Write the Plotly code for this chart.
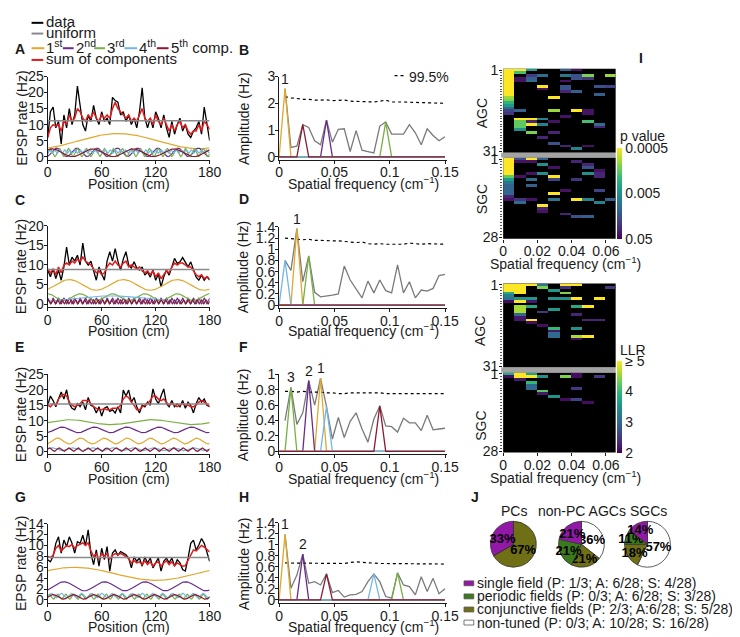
import math
import plotly.graph_objects as go

W, H = 740, 637


def px(v):
    return v / W


def py(v):
    return 1 - v / H


FONT = "Liberation Sans, Arial, Helvetica, sans-serif"
INK = "#1a1a1a"

# ---------------------------------------------------------------- data
position = [3 * i for i in range(61)]            # cm (3-cm bins)
smooth_position = [0.5 * i for i in range(361)]  # cm, for the sinusoidal components
freq_step = 0.00535                              # cm^-1 per spectral bin
freq = [freq_step * k for k in range(29)]
spec_freq = freq[1:]

COMP_COLORS = ["#e0a82e", "#6a2a8e", "#78b043", "#72b6e6", "#8a1a32"]
C_DATA, C_UNI, C_SUM = "#000000", "#8a8a8a", "#e31a1c"

# ---- A / B
A_data = [6, 14, 15.5, 9, 11, 4, 13, 9, 15, 10, 13, 22, 16, 10, 8, 13, 11, 16, 12, 10,
          14, 11, 12, 10, 18.5, 17.5, 17, 13, 14, 11, 13, 10, 12, 9, 14, 21.5, 12, 9, 12, 9,
          14, 12, 9, 13, 9, 6, 11, 7, 10, 12, 8, 10, 7, 6, 8, 9, 11, 7, 15.5, 10, 5]
A_sum = [6, 9, 10, 9.5, 10, 8, 11, 10, 13, 11, 12, 15, 14, 12, 11, 13, 12, 14, 12, 11,
         13, 12, 13, 12, 15, 17, 15, 14, 13, 12, 13, 11, 12, 11, 13, 15, 12, 11, 12, 10,
         13, 11, 10, 12, 10, 8, 10, 8, 10, 11, 9, 10, 8, 7, 8, 8, 10, 8, 11, 10, 8.5]
A_uniform = 11.2
A_comp_cycles = [1, 8, 18, 32, 4]
A_comp_amp = [2.35, 1.3, 1.25, 0.5, 1.2]
A_comp_offset = [4.85, 1.35, 1.3, 1.6, 1.2]
A_comp_peak = [78, 10, 3, 2, 5]
B_spec = [2.55, 0.35, 0.4, 1.2, 1.1, 0.6, 0.45, 1.37, 0.55, 1.03, 1.05, 0.2, 0.98, 0.25,
          0.2, 0.15, 1.15, 1.3, 0.85, 0.85, 0.85, 1.2, 0.9, 0.45, 1.05, 0.8, 0.6, 0.75]
B_threshold = [2.25, 2.2, 2.18, 2.15, 2.15, 2.12, 2.12, 2.13, 2.1, 2.1, 2.12, 2.08, 2.07, 2.08,
               2.05, 2.05, 2.08, 2.12, 2.05, 2.06, 2.05, 2.04, 2.03, 2.03, 2.02, 2.02, 2.0, 2.0]
B_peak_labels = [(0, "1")]

# ---- C / D
C_data = [8.7, 7, 9, 6.5, 8.7, 6.1, 9.5, 14.6, 10, 12, 11, 12.5, 10, 15.6, 11, 10, 11, 8.7, 6.1, 9.5,
          7.8, 6.1, 11, 13.4, 11, 14.2, 11, 8.7, 11.5, 13.4, 10, 9.2, 10.8, 9.2, 8.7, 9.5, 7.4, 8.2, 6.9, 8.7,
          6.1, 7.7, 4.4, 7, 8.7, 7.4, 9.5, 11.7, 10.4, 10.8, 11.9, 10.8, 9.5, 10.8, 9, 6.9, 6.1, 7.4, 6.1, 7, 6.1]
C_sum = [9, 8, 9, 7.5, 9.5, 8, 10, 10.5, 10, 11, 10.5, 11.5, 11, 12, 11, 10.5, 10, 9, 8, 8.5,
         7.5, 8, 9.5, 10.5, 10, 11, 10, 9.5, 10.5, 11, 9.5, 10, 9.5, 9, 9.5, 8.5, 8, 8.5, 7.5, 8.5,
         7, 8, 6.5, 7.5, 8.5, 8, 9.5, 10.5, 10, 10.5, 10.5, 10, 9.5, 9.5, 8.5, 7.5, 7, 7.5, 6.5, 7, 6.5]
C_uniform = 8.85
C_comp_cycles = [3, 30, 5, 1, 36]
C_comp_amp = [1.37, 0.7, 0.88, 0.8, 0.5]
C_comp_offset = [4.9, 0.8, 1.75, 1.3, 0.55]
C_comp_peak = [24, 0, 0, 70, 1]
D_spec = [0.8, 0.62, 1.37, 0.42, 0.88, 0.23, 0.15, 0.16, 0.18, 0.2, 0.7, 0.45, 0.3, 0.13,
          0.43, 0.22, 0.45, 0.26, 0.22, 0.72, 0.22, 0.42, 0.13, 0.27, 0.25, 0.3, 0.53, 0.55]
D_threshold = [1.2, 1.19, 1.18, 1.17, 1.18, 1.16, 1.16, 1.15, 1.15, 1.15, 1.14, 1.12, 1.12, 1.13,
               1.1, 1.09, 1.1, 1.09, 1.09, 1.08, 1.09, 1.11, 1.1, 1.09, 1.1, 1.1, 1.09, 1.09]
D_peak_labels = [(0, "1")]

# ---- E / F
E_data = [15, 18, 16.5, 14.5, 17, 19.3, 17, 20, 15.5, 14, 13.5, 15.5, 14.5, 16, 13.5, 17.5, 15, 14.5, 12.5, 14.5,
          11.5, 14, 14.5, 13, 13.5, 12.5, 14.5, 12.5, 19.9, 18, 19.9, 16, 17.5, 14.5, 12.5, 15, 14.5, 16, 15, 20.3,
          17, 15.5, 18, 20.3, 15.5, 14.5, 16.5, 14.5, 15.5, 14.5, 16.5, 14, 16, 15, 12.5, 15.5, 17.5, 16, 17, 15, 14.5]
E_sum = [15, 14.5, 15.5, 15, 17, 18, 18.5, 18, 16, 15, 14.5, 15, 15.5, 16.5, 16.5, 16.5, 15.5, 14.5, 14, 13.5,
         13.5, 14, 13.5, 13.5, 14, 14, 14, 15, 17, 18, 17.5, 16, 15, 13.5, 13.5, 14.5, 15, 15.5, 16.5, 18,
         18, 17, 16.5, 17, 16, 15, 15.5, 15, 14.5, 15, 15.5, 15, 15, 14.5, 14.5, 15, 16, 16.5, 16, 15.5, 14.5]
E_uniform = 15.4
E_comp_cycles = [7, 5, 2, 8, 17]
E_comp_amp = [0.95, 0.9, 0.8, 0.45, 0.55]
E_comp_offset = [3.4, 7.0, 9.5, 0.75, 0.6]
E_comp_peak = [11, 16, 25, 5, 2]
F_spec = [0.4, 0.83, 0.35, 0.5, 0.92, 0.6, 0.95, 0.58, 0.16, 0.44, 0.18, 0.39, 0.5, 0.29,
          0.12, 0.42, 0.59, 0.33, 0.32, 0.25, 0.43, 0.37, 0.37, 0.27, 0.47, 0.28, 0.29, 0.3]
F_threshold = [0.78, 0.78, 0.77, 0.78, 0.77, 0.77, 0.77, 0.76, 0.76, 0.75, 0.75, 0.76, 0.76, 0.76,
               0.76, 0.76, 0.76, 0.75, 0.75, 0.75, 0.75, 0.75, 0.75, 0.75, 0.75, 0.75, 0.75, 0.75]
F_peak_labels = [(0, "1"), (1, "2"), (2, "3")]

# ---- G / H
G_data = [7.4, 7, 8, 10.4, 11.6, 8.6, 11, 9.8, 11.6, 10.4, 8.6, 10.7, 10.4, 11.9, 10, 12.9, 8.5, 6.5, 9.2, 6.2,
          9.5, 7.4, 9.8, 5.3, 8.6, 9.2, 8.2, 8.9, 8.6, 8.3, 7.7, 5.9, 7.9, 7.1, 7.7, 6.2, 7.9, 6.8, 7.7, 5.9,
          6.8, 7.7, 5.3, 7.1, 7.7, 6.8, 7.7, 6.2, 7.4, 6.8, 5.6, 5.3, 7.7, 10.4, 11, 9.2, 10.1, 11.3, 10.4, 8.6, 7.1]
G_sum = [8, 7.8, 8.2, 9.5, 10, 9, 9.5, 10, 9.8, 10.2, 9.5, 10, 10.2, 10.5, 10, 10.5, 9, 8, 8.5, 7.5,
         8.5, 8, 8.5, 7.5, 8.2, 8.5, 8.3, 8.5, 8.3, 8, 7.6, 6.8, 7.2, 6.8, 7, 6.5, 7.2, 6.5, 7, 6.2,
         6.8, 7, 6.2, 6.8, 7.2, 6.5, 7, 6.3, 6.8, 6.5, 6.2, 6.3, 7.3, 8.5, 9.2, 9, 9.5, 10, 9.7, 9.2, 8.8]
G_uniform = 7.8
G_comp_cycles = [1, 4, 20, 16, 8]
G_comp_amp = [1.2, 0.83, 0.45, 0.4, 0.42]
G_comp_offset = [4.8, 2.5, 0.6, 0.8, 0.55]
G_comp_peak = [30, 18, 2, 4, 6]
H_spec = [1.19, 0.21, 0.45, 0.83, 0.3, 0.33, 0.27, 0.47, 0.13, 0.17, 0.05, 0.09, 0.1, 0.15,
          0.33, 0.47, 0.33, 0.06, 0.03, 0.49, 0.27, 0.24, 0.09, 0.42, 0.15, 0.39, 0.11, 0.2]
H_threshold = [0.67, 0.67, 0.67, 0.66, 0.67, 0.67, 0.66, 0.66, 0.67, 0.67, 0.66, 0.68, 0.69, 0.68,
               0.67, 0.67, 0.66, 0.66, 0.66, 0.66, 0.66, 0.65, 0.65, 0.65, 0.65, 0.65, 0.65, 0.65]
H_peak_labels = [(0, "1"), (1, "2")]

# ---- I : significance maps (row, column, value); p in -log10 units, LLR in raw units
hm_step = 0.00657
p_agc_rows = [1, 2, 3, 4, 5, 6, 7, 8, 9, 10, 11, 12, 13, 14, 15, 16, 17,
              1, 2, 4, 5, 16, 19, 20, 21, 22, 23,
              1, 3, 4, 5, 19, 20, 21, 24,
              3, 7, 8, 19, 21, 26,
              11, 16, 20, 24, 28,
              1, 3, 5, 7, 8, 9, 18, 29,
              1, 3, 4, 9, 16, 30,
              3, 4, 16, 17, 20, 29,
              7, 10, 21, 22,
              3, 7]
p_agc_cols = [0] * 17 + [1] * 10 + [2] * 8 + [3] * 6 + [4] * 5 + [5] * 8 + [6] * 6 + [7] * 6 + [8] * 4 + [9] * 2
p_agc_vals = [3.3, 3.3, 3.3, 3.3, 3.3, 3.3, 3.3, 3.3, 3.3, 3.3, 3.0, 2.9, 2.6, 2.4, 2.0, 1.7, 1.6,
              3.3, 2.7, 1.4, 1.4, 1.9, 3.3, 2.8, 2.8, 2.8, 2.3,
              2.4, 1.65, 1.9, 2.0, 3.3, 1.5, 3.3, 2.9,
              2.0, 3.3, 1.4, 2.2, 2.2, 1.5,
              3.3, 3.0, 1.4, 1.5, 1.8,
              1.9, 2.1, 1.4, 1.8, 1.8, 1.5, 1.4, 1.5,
              1.4, 1.8, 1.8, 1.9, 3.3, 2.2,
              2.9, 1.6, 1.4, 1.4, 2.7, 1.4,
              1.8, 1.9, 2.0, 1.5,
              3.0, 1.7]
p_sgc_rows = [1, 2, 3, 4, 5, 6, 7, 8, 9, 10, 11, 12, 13, 14, 15,
              1, 2, 7, 15, 16,
              1, 2, 6, 8, 10, 15,
              1, 3, 6, 17, 18, 19,
              4, 7, 8, 13, 15,
              12, 20,
              2, 8, 15, 21,
              3, 4, 6, 15, 21,
              5, 6, 7, 12, 16,
              15]
p_sgc_cols = [0] * 15 + [1] * 5 + [2] * 6 + [3] * 6 + [4] * 5 + [5] * 2 + [6] * 4 + [7] * 5 + [8] * 5 + [9] * 1
p_sgc_vals = [3.3, 3.3, 3.3, 3.3, 3.3, 3.3, 2.8, 2.4, 2.1, 1.95, 1.95, 1.95, 1.95, 1.5, 1.4,
              1.8, 1.4, 1.4, 1.6, 2.0,
              3.3, 1.4, 1.4, 2.0, 1.9, 1.4,
              1.9, 2.3, 2.3, 3.3, 1.5, 1.4,
              1.4, 3.3, 1.7, 3.3, 2.1,
              1.4, 1.5,
              1.5, 1.6, 3.3, 1.8,
              1.5, 1.8, 2.3, 2.2, 1.9,
              1.4, 1.5, 1.5, 1.7, 2.2,
              1.9]
llr_agc_rows = [1, 2, 3, 4, 5, 6, 7,
                1, 2, 3, 4, 6, 7, 9, 10, 11, 12, 13, 14,
                1, 6, 7, 9, 14, 15,
                1, 2, 11, 16,
                3, 6, 10, 17, 18, 19, 20,
                1, 2, 4, 6,
                1, 6, 9, 12, 17, 20, 21,
                9, 14, 20,
                6, 14,
                2]
llr_agc_cols = [0] * 7 + [1] * 12 + [2] * 6 + [3] * 4 + [4] * 7 + [5] * 4 + [6] * 7 + [7] * 3 + [8] * 2 + [9] * 1
llr_agc_vals = [5, 5, 5, 3.8, 3.3, 3.1, 2.1,
                5, 5, 5, 5, 3.5, 5, 4.6, 4.6, 4.6, 3.0, 2.2, 2.2,
                5, 3.6, 2.2, 3.8, 5, 2.1,
                3.2, 4.4, 2.5, 2.1,
                3.6, 3.5, 3.6, 4.0, 2.2, 3.0, 3.0,
                5, 2.4, 4.4, 3.5,
                5, 5, 3.8, 2.3, 3.5, 4.6, 2.1,
                5, 2.3, 5,
                5, 2.3,
                2.5]
llr_sgc_rows = [1, 2,
                1, 2, 3,
                1, 2, 4, 5, 6,
                2, 7, 8,
                9,
                2, 10,
                1, 2, 6, 10,
                11,
                2]
llr_sgc_cols = [0] * 2 + [1] * 3 + [2] * 5 + [3] * 3 + [4] * 1 + [5] * 2 + [6] * 4 + [7] * 1 + [8] * 1
llr_sgc_vals = [3.8, 2.1,
                5, 5, 2.2,
                3.7, 5, 4.0, 3.0, 3.0,
                3.5, 4.2, 2.2,
                3.5,
                4.4, 2.1,
                2.1, 2.1, 2.5, 2.6,
                2.1,
                2.5]

# ---- J : pie charts
pie_categories = ["single field", "periodic fields", "conjunctive fields", "non-tuned"]
pie_titles = ["PCs", "non-PC AGCs", "SGCs"]
pie_PC = [1, 0, 2, 0]
pie_AGC = [6, 6, 6, 10]
pie_SGC = [4, 3, 5, 16]
pie_colors = ["#9418a8", "#3c7a1e", "#6f6f16", "#ffffff"]
pie_legend = ["single field (P: 1/3; A: 6/28; S: 4/28)",
              "periodic fields (P: 0/3; A: 6/28; S: 3/28)",
              "conjunctive fields (P: 2/3; A:6/28; S: 5/28)",
              "non-tuned (P: 0/3; A: 10/28; S: 16/28)"]

# ---------------------------------------------------------------- figure
fig = go.Figure()
annotations = []
shapes = []
layout_axes = {}

AX = dict(showline=True, linecolor=INK, linewidth=1, ticks="outside", ticklen=3, tickwidth=1,
          tickcolor=INK, showgrid=False, zeroline=False, ticklabelstandoff=-3,
          tickfont=dict(size=14, color=INK, family=FONT))


def axnames(n):
    return ("x" if n == 1 else f"x{n}"), ("y" if n == 1 else f"y{n}")


def axkeys(n):
    return ("xaxis" if n == 1 else f"xaxis{n}"), ("yaxis" if n == 1 else f"yaxis{n}")


ROT_SHIFT = 2  # rotated annotations land slightly right of their anchor


def add_text(text, x, y, size=14, bold=False, angle=0, xanchor="center", color=INK):
    if angle:
        x = x - ROT_SHIFT
    annotations.append(dict(text=f"<b>{text}</b>" if bold else text, x=px(x), y=py(y),
                            xref="paper", yref="paper", showarrow=False, textangle=angle,
                            xanchor=xanchor, yanchor="middle",
                            font=dict(size=size, family=FONT, color=color)))


panels = [
    dict(data=A_data, summ=A_sum, uni=A_uniform, cyc=A_comp_cycles, amp=A_comp_amp, off=A_comp_offset,
         peak=A_comp_peak, spec=B_spec, thr=B_threshold, labels=B_peak_labels,
         ypix=(147, 62), yrange=[-0.9, 25], ydt=5, sypix=(147, 62), syrange=[-0.1, 3], sydt=1,
         letters=("A", "B"), lety=(34, 35)),
    dict(data=C_data, summ=C_sum, uni=C_uniform, cyc=C_comp_cycles, amp=C_comp_amp, off=C_comp_offset,
         peak=C_comp_peak, spec=D_spec, thr=D_threshold, labels=D_peak_labels,
         ypix=(298, 215), yrange=[-0.75, 20], ydt=5, sypix=(299, 216), syrange=[-0.05, 1.4], sydt=0.2,
         letters=("C", "D"), lety=(188, 187)),
    dict(data=E_data, summ=E_sum, uni=E_uniform, cyc=E_comp_cycles, amp=E_comp_amp, off=E_comp_offset,
         peak=E_comp_peak, spec=F_spec, thr=F_threshold, labels=F_peak_labels,
         ypix=(449, 367), yrange=[-0.95, 25], ydt=5, sypix=(449, 367), syrange=[-0.04, 1], sydt=0.2,
         letters=("E", "F"), lety=(339, 339)),
    dict(data=G_data, summ=G_sum, uni=G_uniform, cyc=G_comp_cycles, amp=G_comp_amp, off=G_comp_offset,
         peak=G_comp_peak, spec=H_spec, thr=H_threshold, labels=H_peak_labels,
         ypix=(601, 520), yrange=[-0.54, 14], ydt=2, sypix=(601, 519), syrange=[-0.055, 1.4], sydt=0.2,
         letters=("G", "H"), lety=(493, 493)),
]

POS_X = (36.5, 202)
SPEC_X = (273, 445)

for i, P in enumerate(panels):
    n_pos, n_spec = 2 * i + 1, 2 * i + 2
    xa, ya = axnames(n_pos)
    # position panel
    fig.add_trace(go.Scatter(x=position, y=P["data"], mode="lines", line=dict(color=C_DATA, width=1.3),
                             xaxis=xa, yaxis=ya, showlegend=False))
    fig.add_trace(go.Scatter(x=position, y=P["summ"], mode="lines", line=dict(color=C_SUM, width=1.5),
                             xaxis=xa, yaxis=ya, showlegend=False))
    fig.add_trace(go.Scatter(x=[position[0], position[-1]], y=[P["uni"], P["uni"]], mode="lines",
                             line=dict(color=C_UNI, width=1.6), xaxis=xa, yaxis=ya, showlegend=False))
    for c in range(5):
        ys = [P["off"][c] + P["amp"][c] * math.cos(2 * math.pi * P["cyc"][c] * (x - P["peak"][c]) / 180.0)
              for x in smooth_position]
        fig.add_trace(go.Scatter(x=smooth_position, y=ys, mode="lines",
                                 line=dict(color=COMP_COLORS[c], width=1.2),
                                 xaxis=xa, yaxis=ya, showlegend=False))
    kx, ky = axkeys(n_pos)
    layout_axes[kx] = dict(AX, domain=[px(POS_X[0]), px(POS_X[1])], range=[0, 180],
                           tickvals=[0, 60, 120, 180], anchor=ya)
    layout_axes[ky] = dict(AX, domain=[py(P["ypix"][0]), py(P["ypix"][1])], range=P["yrange"],
                           tick0=0, dtick=P["ydt"], anchor=xa)

    # spectrum panel
    xs, ys_ = axnames(n_spec)
    fig.add_trace(go.Scatter(x=spec_freq, y=P["spec"], mode="lines", line=dict(color="#7a7a7a", width=1.3),
                             xaxis=xs, yaxis=ys_, showlegend=False))
    fig.add_trace(go.Scatter(x=spec_freq, y=P["thr"], mode="lines",
                             line=dict(color="#000000", width=1.2, dash="dot"),
                             xaxis=xs, yaxis=ys_, showlegend=False))
    for c in range(5):
        comp_spec = [P["spec"][k - 1] if (k == P["cyc"][c] and k >= 1) else 0 for k in range(29)]
        fig.add_trace(go.Scatter(x=freq, y=comp_spec, mode="lines",
                                 line=dict(color=COMP_COLORS[c], width=1.3),
                                 xaxis=xs, yaxis=ys_, showlegend=False))
    for ci, lab in P["labels"]:
        k = P["cyc"][ci]
        annotations.append(dict(text=lab, x=freq[k], y=P["spec"][k - 1], xref=xs, yref=ys_,
                                showarrow=False, yanchor="bottom", yshift=0,
                                font=dict(size=14, family=FONT, color=INK)))
    kx, ky = axkeys(n_spec)
    layout_axes[kx] = dict(AX, domain=[px(SPEC_X[0]), px(SPEC_X[1])], range=[0, 0.152],
                           tickvals=[0, 0.05, 0.1, 0.15], ticktext=["0", "0.05", "0.1", "0.15"], anchor=ys_)
    layout_axes[ky] = dict(AX, domain=[py(P["sypix"][0]), py(P["sypix"][1])], range=P["syrange"],
                           tick0=0, dtick=P["sydt"], anchor=xs)

    # titles
    ymid = (P["ypix"][0] + P["ypix"][1]) / 2
    add_text("EPSP rate (Hz)", 12, ymid, angle=-90)
    add_text("Amplitude (Hz)", 239, ymid, angle=-90)
    add_text("Position (cm)", (POS_X[0] + POS_X[1]) / 2, P["ypix"][0] + 25)
    add_text("Spatial frequency (cm<sup>−1</sup>)", 359, P["ypix"][0] + 24)
    add_text(P["letters"][0], 1, P["lety"][0], bold=True, xanchor="left")
    add_text(P["letters"][1], 237, P["lety"][1], bold=True)

# 99.5% key
shapes.append(dict(type="line", xref="paper", yref="paper", x0=px(391), x1=px(403), y0=py(61), y1=py(61),
                   line=dict(color="#000000", width=1.3, dash="dot")))
add_text("99.5%", 404, 62, xanchor="left")

# top legend
leg_items = [(C_DATA, "data", 7), (C_UNI, "uniform", 18), (C_SUM, "sum of components", 45)]
for col, txt, yy in leg_items:
    shapes.append(dict(type="line", xref="paper", yref="paper", x0=px(20), x1=px(32), y0=py(yy), y1=py(yy),
                       line=dict(color=col, width=2)))
    add_text(txt, 33, yy - 1, xanchor="left", size=15)
comp_leg = [(20, 33, "1<sup>st</sup>"), (52, 63, "2<sup>nd</sup>"), (84, 95, "3<sup>rd</sup>"),
            (115, 128, "4<sup>th</sup>"), (148, 160, "5<sup>th</sup> comp.")]
for c, (x0, x1, txt) in enumerate(comp_leg):
    shapes.append(dict(type="line", xref="paper", yref="paper", x0=px(x0), x1=px(x1), y0=py(33), y1=py(33),
                       line=dict(color=COMP_COLORS[c], width=2)))
    add_text(txt, x1, 31, xanchor="left", size=15)


# ---------------------------------------------------------------- heatmaps
def grid(nrows, rows, cols, vals):
    z = [[None] * 10 for _ in range(nrows)]
    for r, c, v in zip(rows, cols, vals):
        z[r - 1][c] = v
    return z


HM_X = (502, 617)
hm_specs = [
    (9, grid(31, p_agc_rows, p_agc_cols, p_agc_vals), 31, (140, 54), "coloraxis", False),
    (10, grid(28, p_sgc_rows, p_sgc_cols, p_sgc_vals), 28, (228, 145), "coloraxis", True),
    (11, grid(31, llr_agc_rows, llr_agc_cols, llr_agc_vals), 31, (360, 274), "coloraxis2", False),
    (12, grid(28, llr_sgc_rows, llr_sgc_cols, llr_sgc_vals), 28, (447, 365), "coloraxis2", True),
]
for n, z, nr, (ybot, ytop), cax, show_x in hm_specs:
    xa, ya = axnames(n)
    fig.add_trace(go.Heatmap(z=z, x0=hm_step / 2, dx=hm_step, y0=1, dy=1, coloraxis=cax,
                             xaxis=xa, yaxis=ya, hoverongaps=False))
    kx, ky = axkeys(n)
    xdict = dict(domain=[px(HM_X[0]), px(HM_X[1])], range=[0, 10 * hm_step], anchor=ya,
                 showgrid=False, zeroline=False, showline=False)
    if show_x:
        xdict.update(ticks="outside", ticklen=3, tickcolor=INK, tickvals=[0, 0.02, 0.04, 0.06],
                     ticktext=["0", "0.02", "0.04", "0.06"], ticklabelstandoff=-3,
                     tickfont=dict(size=14, color=INK, family=FONT))
    else:
        xdict.update(showticklabels=False, ticks="")
    layout_axes[kx] = xdict
    layout_axes[ky] = dict(domain=[py(ybot), py(ytop)], range=[nr + 0.5, 0.5], anchor=xa,
                           showgrid=False, zeroline=False, showline=False,
                           ticks="outside", ticklen=3, tickcolor=INK, tickvals=[1, nr],
                           ticklabelstandoff=-2,
                           minor=dict(ticks="outside", ticklen=2, tickcolor="#555", dtick=1, tick0=1),
                           tickfont=dict(size=14, color=INK, family=FONT))
    shapes.append(dict(type="rect", xref=f"{xa} domain", yref=f"{ya} domain", x0=0, x1=1, y0=0, y1=1,
                       fillcolor="black", line=dict(width=0), layer="below"))

for yb in [(140, 145), (360, 365)]:
    shapes.append(dict(type="rect", xref="paper", yref="paper", x0=px(500), x1=px(617),
                       y0=py(yb[1]), y1=py(yb[0]), fillcolor="#a3a3a3", line=dict(width=0)))

add_text("AGC", 482, 100, angle=-90)
add_text("SGC", 482, 188, angle=-90)
add_text("AGC", 481, 323, angle=-90)
add_text("SGC", 481, 420, angle=-90)
add_text("Spatial frequency (cm<sup>−1</sup>)", 566, 253)
add_text("Spatial frequency (cm<sup>−1</sup>)", 566, 472)
add_text("p value", 619, 123, xanchor="left")
add_text("LLR", 619, 342, xanchor="left")
add_text("I", 643, 43, bold=True)
add_text("J", 473, 493, bold=True)

# ---------------------------------------------------------------- pies
pie_centers = [(512.5, 541), (582, 541), (649.5, 541)]
R = 23.5
for title, vals, (cx, cy) in zip(pie_titles, [pie_PC, pie_AGC, pie_SGC], pie_centers):
    total = sum(vals)
    texts = [f"<b>{round(100 * v / total)}%</b>" if v else "" for v in vals]
    # drawn clockwise from 12 o'clock in reverse order, so "single field" ends up
    # immediately left of 12 o'clock as in the original
    fig.add_trace(go.Pie(values=vals[::-1], labels=pie_categories[::-1], text=texts[::-1],
                         sort=False, direction="clockwise", rotation=0,
                         marker=dict(colors=pie_colors[::-1], line=dict(color="#333333", width=0.8)),
                         texttemplate="%{text}", textposition="inside",
                         insidetextorientation="horizontal",
                         textfont=dict(size=13, color="#000000", family=FONT),
                         domain=dict(x=[px(cx - R), px(cx + R)], y=[py(cy + R), py(cy - R)]),
                         showlegend=False, hoverinfo="skip"))
    add_text(title, cx + 1, 507, size=14)

for j, (col, txt) in enumerate(zip(pie_colors, pie_legend)):
    yy = 581 + 13.4 * j
    shapes.append(dict(type="rect", xref="paper", yref="paper", x0=px(462), x1=px(472),
                       y0=py(yy + 2.5), y1=py(yy - 2.5), fillcolor=col,
                       line=dict(color="#555555", width=0.8)))
    add_text(txt, 473, yy, xanchor="left")

fig.update_layout(
    width=W, height=H, autosize=False,
    margin=dict(l=0, r=0, t=0, b=0),
    paper_bgcolor="white", plot_bgcolor="white",
    font=dict(family=FONT, size=14, color=INK),
    showlegend=False,
    annotations=annotations, shapes=shapes,
    uniformtext=dict(minsize=13, mode="show"),
    coloraxis=dict(colorscale="Viridis", cmin=1.301, cmax=3.301,
                   colorbar=dict(x=px(618), xanchor="left", y=py(135), yanchor="top",
                                 len=93 / H, lenmode="fraction", thickness=5, xpad=0, ypad=0,
                                 outlinewidth=0, ticks="", tickvals=[3.301, 2.301, 1.301],
                                 ticktext=["0.0005", "0.005", "0.05"],
                                 tickfont=dict(size=14, color=INK, family=FONT))),
    coloraxis2=dict(colorscale="Viridis", cmin=2, cmax=5,
                    colorbar=dict(x=px(618), xanchor="left", y=py(353), yanchor="top",
                                  len=94 / H, lenmode="fraction", thickness=5, xpad=0, ypad=0,
                                  outlinewidth=0, ticks="", tickvals=[5, 4, 3, 2],
                                  ticktext=["≥ 5", "4", "3", "2"],
                                  tickfont=dict(size=14, color=INK, family=FONT))),
    **layout_axes,
)

fig.write_html("out.html")
